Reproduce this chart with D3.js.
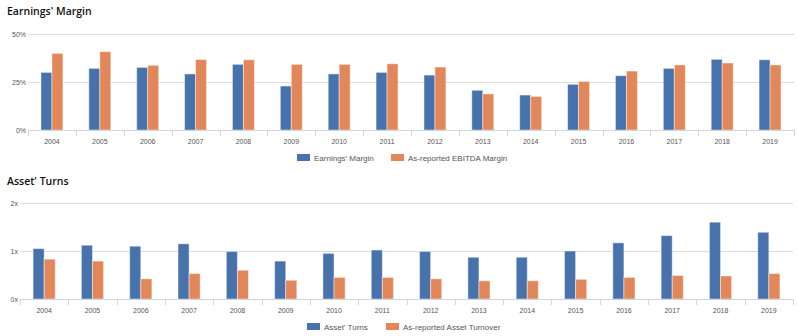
<!DOCTYPE html>
<html>
<head>
<meta charset="utf-8">
<script src="https://cdn.jsdelivr.net/npm/d3@7"></script>
<style>
  body { margin: 0; background: #fff; }
  svg { display: block; }
  .title { font-family: "Open Sans", sans-serif; font-weight: 600; font-size: 10.5px; fill: #111; }
  .tick text { font-family: "Liberation Sans", Arial, sans-serif; font-size: 7px; fill: #555; }
  .legend text { font-family: "Liberation Sans", Arial, sans-serif; font-size: 8px; fill: #555; }
</style>
</head>
<body>
<div id="chart-area"></div>
<script>
// data
const years = ["2004", "2005", "2006", "2007", "2008", "2009", "2010", "2011",
  "2012", "2013", "2014", "2015", "2016", "2017", "2018", "2019"]

const earningsMargin = [30.0, 32.1, 32.6, 29.2, 34.2, 22.9, 29.2, 30.0,
  28.6, 20.7, 18.2, 23.8, 28.3, 32.1, 36.8, 36.6]
const ebitdaMargin = [39.9, 40.8, 33.7, 36.7, 36.6, 34.2, 34.2, 34.5,
  32.8, 18.8, 17.5, 25.3, 30.7, 33.9, 34.9, 33.9]

const assetTurns = [1.05, 1.12, 1.10, 1.15, 0.99, 0.79, 0.95, 1.02,
  0.99, 0.87, 0.87, 1.00, 1.17, 1.32, 1.60, 1.39]
const assetTurnover = [0.83, 0.79, 0.42, 0.53, 0.60, 0.39, 0.45, 0.45,
  0.42, 0.38, 0.38, 0.41, 0.45, 0.49, 0.48, 0.53]

const marginTicks = [0, 25, 50]
const turnsTicks = [0, 1, 2]

const BLUE = "#4872ab"
const ORANGE = "#e2875a"

const W = 798, H = 336

const svg = d3.select("#chart-area").append("svg")
  .attr("width", W)
  .attr("height", H)

function drawPanel(opts) {
  const g = svg.append("g")

  g.append("text").attr("class", "title")
    .attr("x", 7).attr("y", opts.titleY)
    .text(opts.title)

  const x = d3.scaleBand().domain(years).range([opts.left, opts.right])
  const xs = d3.scaleBand().domain([0, 1]).range([0, x.bandwidth()]).paddingOuter(1.18)
  const y = d3.scaleLinear().domain([0, opts.max]).range([opts.bottom, opts.top])

  // grid
  g.selectAll(".grid").data(opts.ticks.slice(1)).enter()
    .append("line")
    .attr("x1", opts.left).attr("x2", opts.right)
    .attr("y1", d => Math.round(y(d)) + 0.5).attr("y2", d => Math.round(y(d)) + 0.5)
    .attr("stroke", "#dcdcdc").attr("stroke-width", 1)

  // y labels
  const yAxis = g.append("g")
    .attr("transform", `translate(${opts.left},0)`)
    .call(d3.axisLeft(y).tickValues(opts.ticks).tickSize(0).tickPadding(2).tickFormat(opts.fmt))
  yAxis.select(".domain").remove()

  // bars
  const series = [opts.a, opts.b]
  const colors = [BLUE, ORANGE]
  series.forEach((vals, si) => {
    g.selectAll(".bar" + si).data(vals).enter()
      .append("rect")
      .attr("x", (d, i) => x(years[i]) + xs(si))
      .attr("width", xs.bandwidth())
      .attr("y", d => y(d))
      .attr("height", d => y(0) - y(d))
      .attr("fill", colors[si])
      .attr("stroke", "rgba(255,255,255,0.45)")
      .attr("stroke-width", 1)
  })

  // x axis
  const xAxis = g.append("g")
    .attr("transform", `translate(0,${opts.bottom})`)
    .call(d3.axisBottom(x).tickSize(0).tickPadding(9))
  xAxis.select(".domain").attr("stroke", "#ccd6e6")
    .attr("d", `M${opts.left},0.5H${opts.right}`)
  xAxis.selectAll(".sep").data(d3.range(years.length + 1)).enter()
    .append("line")
    .attr("x1", i => Math.round(opts.left + i * x.step()) + 0.5)
    .attr("x2", i => Math.round(opts.left + i * x.step()) + 0.5)
    .attr("y1", 0).attr("y2", 6)
    .attr("stroke", "#ccd6e6")

  // legend
  const lg = g.append("g").attr("class", "legend")
  opts.legend.forEach((name, i) => {
    lg.append("rect")
      .attr("x", opts.legendX[i]).attr("y", opts.legendY)
      .attr("width", 13).attr("height", 7)
      .attr("fill", colors[i])
    lg.append("text")
      .attr("x", opts.legendX[i] + 17).attr("y", opts.legendY + 6.5)
      .text(name)
  })
}

drawPanel({
  title: "Earnings' Margin", titleY: 15,
  left: 28, right: 794, top: 34, bottom: 130, max: 50,
  ticks: marginTicks, fmt: d => d + "%",
  a: earningsMargin, b: ebitdaMargin,
  legend: ["Earnings' Margin", "As-reported EBITDA Margin"],
  legendX: [297, 391], legendY: 154
})

drawPanel({
  title: "Asset' Turns", titleY: 185,
  left: 20, right: 793, top: 203, bottom: 299, max: 2,
  ticks: turnsTicks, fmt: d => d + "x",
  a: assetTurns, b: assetTurnover,
  legend: ["Asset' Turns", "As-reported Asset Turnover"],
  legendX: [307, 386], legendY: 323
})
</script>
</body>
</html>
